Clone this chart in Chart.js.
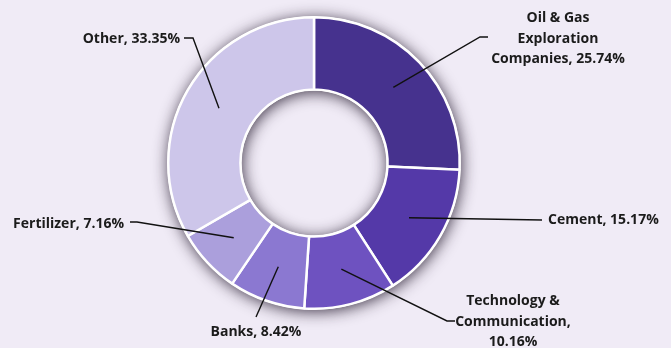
<!DOCTYPE html>
<html>
<head>
<meta charset="utf-8">
<script src="https://cdn.jsdelivr.net/npm/chart.js@4"></script>
<style>
  html, body { margin: 0; padding: 0; background: #f0ebf6; }
  #wrap { width: 671px; height: 348px; }
</style>
</head>
<body>
<div id="wrap"><canvas id="sectors" width="671" height="348"></canvas></div>
<script>
// sector weights, clockwise from 12 o'clock
const sectors = ['Oil & Gas Exploration Companies', 'Cement', 'Technology & Communication', 'Banks', 'Fertilizer', 'Other'];
const shares = [25.74, 15.17, 10.16, 8.42, 7.16, 33.35];
const sliceColors = ['#46328e', '#5439a8', '#6e52c0', '#8b78d1', '#ab9fdc', '#cdc6ea'];

// callout placement relative to the ring centre; words = words per text line
const callouts = [
  { elbow: [166, -126], end: [174, -126], text: [244, -124], align: 'center', words: [3, 1, 2] },
  { elbow: null, end: [228, 57], text: [234, 57], align: 'left', words: null },
  { elbow: [133, 158], end: [141, 158], text: [199, 159], align: 'center', words: [2, 1, 1] },
  { elbow: null, end: [-58, 154], text: [-58, 169], align: 'center', words: null },
  { elbow: [-177, 59], end: [-184, 59], text: [-190, 61], align: 'right', words: null },
  { elbow: [-121, -125], end: [-130, -125], text: [-134, -124], align: 'right', words: null }
];

const FONT = 'bold 14px "Open Sans"';
const LINE_H = 20.5;

function splitLines(str, counts) {
  if (!counts) return [str];
  const words = str.split(' ');
  const lines = [];
  let k = 0;
  counts.forEach(n => {
    lines.push(words.slice(k, k + n).join(' '));
    k += n;
  });
  return lines;
}

// soft shadow under the ring
const ringShadow = {
  id: 'ringShadow',
  beforeDatasetsDraw(chart) {
    const arc = chart.getDatasetMeta(0).data[0];
    if (!arc) return;
    const { x, y, innerRadius, outerRadius } = arc.getProps(['x', 'y', 'innerRadius', 'outerRadius'], true);
    const ctx = chart.ctx;
    ctx.save();
    ctx.shadowColor = 'rgba(30, 20, 40, 0.85)';
    ctx.shadowBlur = 15;
    ctx.shadowOffsetX = 1;
    ctx.shadowOffsetY = 2;
    ctx.fillStyle = '#ffffff';
    ctx.beginPath();
    ctx.arc(x, y, outerRadius + 1, 0, Math.PI * 2);
    ctx.arc(x, y, innerRadius - 1, 0, Math.PI * 2, true);
    ctx.fill();
    ctx.restore();
  }
};

// leader lines and labels
const calloutLabels = {
  id: 'calloutLabels',
  afterDatasetsDraw(chart) {
    const ctx = chart.ctx;
    const meta = chart.getDatasetMeta(0);
    ctx.save();
    ctx.font = FONT;
    meta.data.forEach((arc, i) => {
      const p = arc.getProps(['x', 'y', 'startAngle', 'endAngle', 'innerRadius', 'outerRadius'], true);
      const mid = (p.startAngle + p.endAngle) / 2;
      const r = (p.innerRadius + p.outerRadius) / 2;
      const ax = p.x + Math.cos(mid) * r;
      const ay = p.y + Math.sin(mid) * r;
      const c = callouts[i];

      ctx.strokeStyle = '#111111';
      ctx.lineWidth = 1.4;
      ctx.beginPath();
      ctx.moveTo(ax, ay);
      if (c.elbow) ctx.lineTo(p.x + c.elbow[0], p.y + c.elbow[1]);
      ctx.lineTo(p.x + c.end[0], p.y + c.end[1]);
      ctx.stroke();

      const str = sectors[i] + ', ' + shares[i].toFixed(2) + '%';
      const lines = splitLines(str, c.words);
      ctx.fillStyle = '#1b1b1b';
      ctx.textAlign = c.align;
      ctx.textBaseline = 'middle';
      const tx = p.x + c.text[0];
      const ty0 = p.y + c.text[1] - (lines.length - 1) / 2 * LINE_H;
      lines.forEach((ln, k) => ctx.fillText(ln, tx, ty0 + k * LINE_H));
    });
    ctx.restore();
  }
};

new Chart(document.getElementById('sectors').getContext('2d'), {
  type: 'doughnut',
  data: {
    labels: sectors,
    datasets: [{
      data: shares,
      backgroundColor: sliceColors,
      borderColor: '#ffffff',
      borderWidth: 2.5
    }]
  },
  options: {
    responsive: false,
    animation: false,
    events: [],
    cutout: '50.5%',
    layout: { padding: { left: 167, right: 210, top: 16, bottom: 38 } },
    plugins: {
      legend: { display: false },
      tooltip: { enabled: false }
    }
  },
  plugins: [ringShadow, calloutLabels]
});
</script>
</body>
</html>
